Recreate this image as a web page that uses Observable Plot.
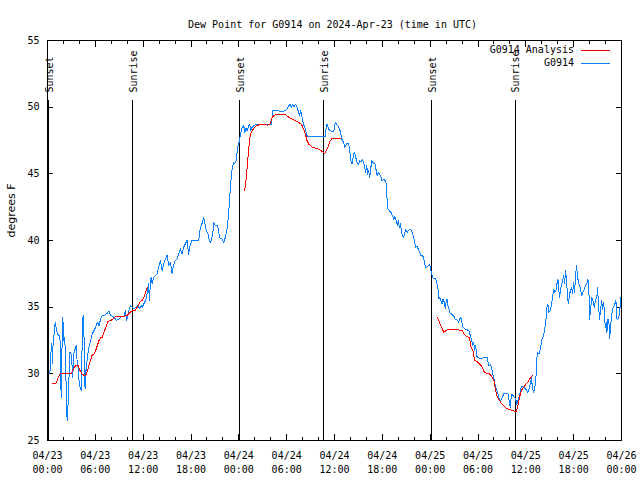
<!DOCTYPE html>
<html><head><meta charset="utf-8">
<script src="https://cdn.jsdelivr.net/npm/d3@7"></script>
<script src="https://cdn.jsdelivr.net/npm/@observablehq/plot@0.6"></script>
<style>html,body{margin:0;padding:0;background:#fff} svg{display:block}</style>
</head><body><div id="chart"></div>
<script>
// ---- data (hours since 2024-04-23 00:00 UTC, degrees F) ----
const title = "Dew Point for G0914 on 2024-Apr-23 (time in UTC)";
const yLabel = "degrees F";
const seriesNames = ["G0914 Analysis", "G0914"];
const seriesColors = ["#ff0000", "#0a80ff"];
const xTicks = [0, 6, 12, 18, 24, 30, 36, 42, 48, 54, 60, 66, 72];
const xTickLabels = ["04/23\n00:00","04/23\n06:00","04/23\n12:00","04/23\n18:00","04/24\n00:00","04/24\n06:00","04/24\n12:00","04/24\n18:00","04/25\n00:00","04/25\n06:00","04/25\n12:00","04/25\n18:00","04/26\n00:00"];
const xMinorTicks = [2,4,8,10,14,16,20,22,26,28,32,34,38,40,44,46,50,52,56,58,62,64,68,70];
const yTicks = [25, 30, 35, 40, 45, 50, 55];
const sunHours = [0.17, 10.7, 24.12, 34.66, 48.18, 58.69];
const sunLabels = ["Sunset", "Sunrise", "Sunset", "Sunrise", "Sunset", "Sunrise"];

const observed = [
[0.21,30.0],[0.33,30.25],[0.42,31.5],[0.54,32.25],[0.63,30.75],[0.71,32.5],[0.83,33.0],[0.96,33.88],[1.08,33.5],[1.25,33.0],[1.46,32.88],[1.58,32.5],[1.71,28.25],[1.79,31.25],[1.92,34.25],[2.04,32.5],[2.17,32.75],[2.29,30.25],[2.38,28.0],[2.46,26.5],[2.54,27.25],[2.67,28.75],[2.75,31.62],[2.92,31.62],[3.04,31.0],[3.17,29.75],[3.29,31.5],[3.42,31.75],[3.58,32.12],[3.71,31.0],[3.83,30.5],[3.96,29.5],[4.08,29.0],[4.21,28.75],[4.33,31.75],[4.46,34.38],[4.58,32.75],[4.71,28.88],[4.83,30.25],[5.0,31.25],[5.21,32.0],[5.42,32.5],[5.63,33.0],[5.83,33.25],[6.04,33.5],[6.25,33.88],[6.46,33.62],[6.67,34.12],[6.88,34.38],[7.08,34.38],[7.42,34.5],[7.71,34.7],[7.92,34.38],[8.33,34.25],[8.67,34.0],[8.96,34.12],[9.17,34.25],[9.58,34.3],[9.79,34.75],[9.92,34.0],[10.08,34.38],[10.25,34.88],[10.42,35.12],[10.63,35.0],[10.83,34.88],[11.17,35.0],[11.33,35.12],[11.58,34.88],[11.75,35.12],[11.88,35.0],[12.08,35.25],[12.29,35.5],[12.42,35.75],[12.54,36.25],[12.67,36.75],[12.79,35.5],[12.92,37.0],[13.0,37.25],[13.13,36.75],[13.33,37.25],[13.54,37.38],[13.75,37.5],[13.96,38.0],[14.17,38.5],[14.38,37.75],[14.58,38.25],[14.79,38.62],[15.0,38.88],[15.21,38.12],[15.42,38.38],[15.63,37.5],[15.75,38.0],[15.92,38.38],[16.04,38.5],[16.25,38.62],[16.46,39.0],[16.67,39.38],[16.88,39.0],[17.08,39.5],[17.29,39.75],[17.5,40.0],[17.71,38.98],[17.92,39.72],[18.13,40.0],[18.97,40.0],[19.09,40.72],[19.26,41.1],[19.43,41.35],[19.59,41.72],[19.76,41.22],[19.93,40.72],[20.09,40.6],[20.26,40.1],[20.43,39.85],[20.6,40.1],[20.76,40.72],[20.85,41.35],[21.06,41.1],[21.35,41.1],[21.47,40.6],[21.6,40.22],[21.89,40.1],[22.1,39.85],[22.31,40.22],[22.52,40.85],[22.64,41.48],[22.77,42.48],[22.82,42.99],[22.95,43.99],[23.07,44.99],[23.24,45.61],[23.36,45.86],[23.49,45.74],[23.66,45.99],[23.78,46.61],[23.91,47.11],[24.08,47.48],[24.2,47.98],[24.41,48.48],[24.62,48.6],[24.74,48.1],[24.91,48.43],[25.04,48.23],[25.25,48.6],[25.37,48.73],[25.5,48.23],[25.66,48.48],[25.87,48.6],[26.29,48.73],[28.09,48.73],[28.25,49.73],[28.38,49.78],[29.42,49.68],[29.84,49.73],[30.05,49.85],[30.26,50.1],[30.43,50.22],[30.59,49.98],[30.76,50.17],[30.93,50.02],[31.1,50.22],[31.26,50.1],[31.43,49.73],[31.6,49.35],[31.76,49.73],[31.93,49.28],[32.1,48.73],[32.27,48.48],[32.43,48.1],[32.6,47.78],[34.86,47.78],[34.98,48.73],[35.07,48.68],[35.27,48.35],[35.48,48.23],[35.69,48.18],[35.9,48.18],[36.11,48.85],[36.24,48.73],[36.4,48.6],[36.57,48.43],[36.74,48.18],[36.86,47.73],[36.99,47.48],[37.16,47.35],[37.28,46.98],[37.41,47.1],[37.57,47.28],[37.78,47.23],[37.91,46.73],[38.07,45.98],[38.2,45.73],[38.33,46.23],[38.41,46.48],[38.53,46.6],[38.66,46.23],[38.83,45.86],[38.99,45.68],[39.16,45.98],[39.33,45.93],[39.5,46.1],[39.66,45.86],[39.79,45.48],[39.91,45.11],[40.04,45.61],[40.16,44.98],[40.29,45.23],[40.41,44.73],[40.54,45.36],[40.67,45.98],[40.79,45.86],[40.92,45.78],[41.13,45.73],[41.25,45.11],[41.38,44.86],[41.5,45.11],[41.67,44.98],[41.84,44.73],[41.96,44.48],[42.17,44.61],[42.38,44.48],[42.5,44.28],[42.59,43.11],[42.71,42.36],[42.88,42.24],[43.09,42.11],[43.26,41.86],[43.42,41.61],[43.59,41.79],[43.76,41.49],[43.88,41.11],[44.01,41.49],[44.13,40.99],[44.26,41.24],[44.38,40.79],[44.51,40.36],[44.68,40.24],[44.8,40.49],[44.93,40.86],[45.1,40.61],[45.26,40.74],[45.43,40.86],[45.6,40.79],[45.76,40.61],[45.93,40.24],[46.06,39.86],[46.18,39.49],[46.35,39.54],[46.52,39.36],[46.68,39.11],[46.85,38.86],[46.98,38.86],[47.18,38.74],[47.31,38.24],[47.44,37.99],[47.6,37.99],[47.77,38.11],[47.94,38.19],[48.06,37.86],[48.19,37.49],[48.31,37.19],[48.53,37.18],[48.69,37.11],[48.86,36.74],[48.98,36.36],[49.11,35.61],[49.19,35.74],[49.36,35.49],[49.49,35.24],[49.61,35.61],[49.78,35.36],[49.9,34.86],[50.03,35.49],[50.11,35.61],[50.24,35.11],[50.36,34.86],[50.53,34.49],[50.66,34.54],[50.82,34.36],[50.95,34.36],[51.12,34.11],[51.28,34.11],[51.45,33.99],[51.58,33.86],[51.7,34.11],[51.83,34.24],[51.95,33.99],[52.04,33.69],[52.12,33.49],[52.41,33.36],[52.87,33.24],[53.04,32.86],[53.21,32.49],[53.33,32.12],[53.46,32.37],[53.58,31.74],[53.71,32.12],[53.79,31.62],[53.87,31.29],[54.12,31.19],[54.46,31.12],[54.79,31.24],[55.13,31.24],[55.25,30.87],[55.38,30.62],[55.55,30.69],[55.71,30.49],[55.84,29.99],[55.96,29.74],[56.09,29.37],[56.21,29.04],[56.38,28.74],[56.55,28.37],[56.72,27.99],[56.88,28.04],[57.05,28.24],[57.22,28.49],[57.8,28.49],[57.93,27.87],[58.05,27.45],[58.14,28.12],[58.26,28.49],[58.55,28.24],[58.72,28.12],[58.89,27.7],[59.01,28.05],[59.14,28.24],[59.31,28.62],[59.43,29.04],[59.72,29.04],[60.06,28.79],[60.23,28.62],[60.35,28.74],[60.48,28.99],[60.64,29.5],[60.72,29.74],[60.81,28.99],[60.98,28.62],[61.14,28.99],[61.27,29.74],[61.35,30.99],[61.48,31.62],[61.64,31.49],[61.77,31.74],[61.89,32.12],[62.02,32.62],[62.15,32.74],[62.31,33.12],[62.44,33.61],[62.56,34.24],[62.65,34.99],[62.77,35.24],[62.9,34.61],[63.06,34.74],[63.23,35.24],[63.36,35.74],[63.48,36.36],[63.65,36.11],[63.78,36.24],[63.9,36.74],[64.03,37.11],[64.15,36.24],[64.23,35.74],[64.36,36.36],[64.49,36.74],[64.61,36.99],[64.74,37.36],[64.86,36.74],[64.99,37.74],[65.11,36.99],[65.24,35.61],[65.36,35.29],[65.49,35.99],[65.61,36.24],[65.74,36.49],[65.86,35.99],[65.99,36.86],[66.12,36.11],[66.24,37.48],[66.37,38.11],[66.49,37.23],[66.66,36.74],[66.83,36.49],[67.0,35.86],[67.16,36.11],[67.33,36.36],[67.49,36.61],[67.66,36.74],[67.79,37.11],[67.91,36.36],[67.99,34.11],[68.12,34.74],[68.25,35.74],[68.41,35.49],[68.58,34.99],[68.75,35.49],[68.92,35.86],[69.0,36.49],[69.12,35.11],[69.25,34.11],[69.37,34.74],[69.5,35.49],[69.63,34.86],[69.75,35.36],[69.83,34.86],[69.96,33.49],[70.08,33.86],[70.17,33.11],[70.29,34.11],[70.42,33.99],[70.5,32.62],[70.63,33.49],[70.75,34.36],[70.88,34.86],[71.0,34.99],[71.17,35.24],[71.3,35.49],[71.42,34.11],[71.55,34.11],[71.67,34.24],[71.84,35.11],[71.92,35.74]
];

// analysis series; NaN entries mark gaps between runs
const analysis = [
[0.63,29.25],[1.04,29.25],[1.25,29.55],[1.46,29.88],[1.67,30.05],[2.08,30.05],[2.5,30.0],[3.0,30.0],[3.25,30.38],[3.54,30.62],[3.83,30.62],[4.08,30.25],[4.33,30.0],[4.58,29.88],[4.83,29.88],[5.08,30.38],[5.33,30.88],[5.58,31.38],[5.83,31.5],[6.04,31.75],[6.25,32.12],[6.46,32.5],[6.67,32.7],[6.88,32.75],[7.08,33.12],[7.33,33.5],[7.58,33.92],[7.92,34.0],[8.17,34.1],[8.42,34.25],[8.75,34.3],[9.58,34.3],[10.0,34.38],[10.25,34.55],[10.5,34.7],[10.75,34.75],[11.0,34.75],[11.25,35.0],[11.5,35.25],[11.67,35.45],[11.92,35.5],[12.08,35.75],[12.33,36.12],[12.5,36.5],
[18.0,NaN],
[24.74,43.74],[24.91,44.61],[25.08,45.74],[25.25,46.98],[25.45,47.98],[25.66,48.23],[25.91,48.43],[26.16,48.6],[26.83,48.73],[27.33,48.68],[27.67,48.65],[27.92,48.73],[28.17,49.23],[28.42,49.4],[29.01,49.48],[29.76,49.48],[30.05,49.33],[30.34,49.23],[30.68,49.1],[31.1,48.98],[31.51,48.85],[31.85,48.73],[32.14,48.35],[32.35,47.98],[32.56,47.48],[32.77,47.23],[33.02,47.11],[33.27,46.98],[33.94,46.86],[34.52,46.66],[34.77,46.53],[34.98,46.73],[35.19,47.03],[35.36,47.36],[35.61,47.61],[35.86,47.68],[36.82,47.68],
[42.0,NaN],
[48.86,34.24],[49.07,33.99],[49.28,33.69],[49.49,33.44],[49.7,33.11],[50.11,33.29],[50.53,33.36],[50.95,33.36],[51.37,33.31],[52.04,33.24],[52.2,33.04],[52.41,32.87],[52.95,32.69],[53.12,31.99],[53.37,31.74],[53.58,30.99],[53.87,30.94],[54.12,30.79],[54.38,30.62],[54.63,30.37],[54.79,30.12],[55.13,30.04],[55.42,29.99],[55.67,29.87],[55.88,29.62],[56.05,29.37],[56.21,28.75],[56.38,28.37],[56.55,28.12],[56.72,27.99],[56.97,27.74],[57.22,27.62],[57.47,27.45],[57.72,27.37],[58.05,27.32],[58.3,27.25],[58.55,27.2],[58.8,27.17],[58.97,27.5],[59.14,27.99],[59.31,28.49],[59.47,28.79],[59.72,28.99],[59.97,29.19],[60.23,29.37],[60.56,29.69],[60.81,29.85]
];

// ---- chart ----
const mono = "'DejaVu Sans Mono', 'Liberation Mono', monospace";
const sun = sunHours.map((h, i) => ({h, label: sunLabels[i]}));
const fmtX = d => xTickLabels[xTicks.indexOf(d)];

const chart = Plot.plot({
  width: 640, height: 480,
  marginLeft: 47, marginRight: 19, marginTop: 40, marginBottom: 40,
  style: {fontFamily: mono, fontSize: "10px", color: "#000", background: "#fff", shapeRendering: "crispEdges"},
  x: {domain: [0, 72]},
  y: {domain: [25, 55]},
  marks: [
    Plot.frame({stroke: "#000"}),
    // labels
    Plot.axisX(xTicks, {tickSize: 0, tickPadding: 9, tickFormat: fmtX, lineHeight: 1.4, label: null}),
    Plot.axisY(yTicks, {tickSize: 0, tickPadding: 8, label: null}),
    // inward ticks
    Plot.axisX(xTicks, {tickSize: -6, fill: "none", label: null}),
    Plot.axisX(xTicks, {anchor: "top", tickSize: -6, fill: "none", label: null}),
    Plot.axisX(xMinorTicks, {tickSize: -3, fill: "none", label: null}),
    Plot.axisX(xMinorTicks, {anchor: "top", tickSize: -3, fill: "none", label: null}),
    Plot.axisY(yTicks, {tickSize: -6, fill: "none", label: null}),
    Plot.axisY(yTicks, {anchor: "right", tickSize: -6, fill: "none", label: null}),
    // sunrise / sunset
    Plot.ruleX(sun, {x: "h", y1: 25, y2: 50.5, stroke: "#000", strokeWidth: 1}),
    Plot.text(sun, {x: "h", text: "label", frameAnchor: "top", rotate: -90, textAnchor: "start", dy: 52, dx: -3, fill: "#000"}),
    // series
    Plot.line(observed, {x: d => d[0], y: d => d[1], stroke: seriesColors[1], strokeWidth: 1}),
    Plot.line(analysis, {x: d => d[0], y: d => d[1], stroke: seriesColors[0], strokeWidth: 1}),
    // title and y label
    Plot.text([title], {text: d => d, frameAnchor: "top", dy: -20, dx: -2, fill: "#000"}),
    Plot.text([yLabel], {text: d => d, frameAnchor: "left", rotate: -90, dx: -36, dy: -3, fill: "#000", fontFamily: "'DejaVu Sans', sans-serif", fontSize: 11})
  ]
});

// legend (top right, inside the frame)
const svg = d3.select(chart);
const lg = svg.append("g").attr("font-family", mono).attr("font-size", 10);
seriesNames.forEach((name, i) => {
  const y = 50 + 13 * i;
  lg.append("text").attr("x", 574).attr("y", y).attr("dy", "0.32em").attr("text-anchor", "end").attr("fill", "#000").text(name);
  lg.append("line").attr("x1", 581).attr("x2", 610).attr("y1", y + 0.5).attr("y2", y + 0.5).attr("stroke", seriesColors[i]).attr("stroke-width", 1);
});

document.getElementById("chart").appendChild(chart);
</script>
</body></html>
